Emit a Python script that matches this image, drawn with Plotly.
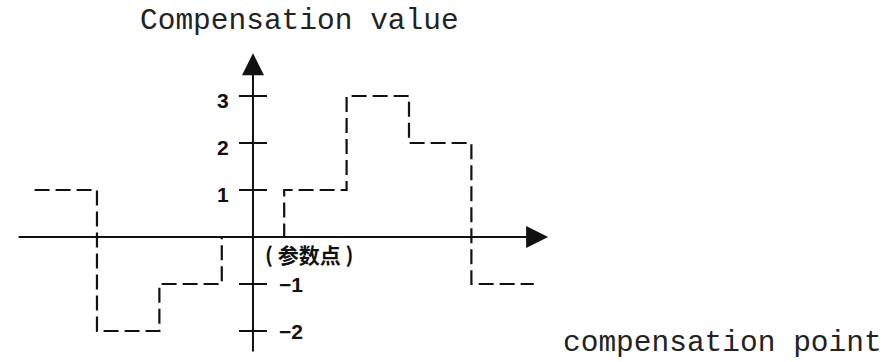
import plotly.graph_objects as go

# compensation point boundaries and the compensation value held on each step
edges = [-3.5, -2.5, -1.5, -0.5, 0.5, 1.5, 2.5, 3.5, 4.5]
values = [1, -2, -1, 0, 1, 3, 2, -1]

tick_values = [3, 2, 1, -1, -2]
tick_labels = ["3", "2", "1", "\u22121", "\u22122"]

x_axis_span = [-3.78, 4.73]
y_axis_span = [-2.47, 3.91]

W, H = 886, 362
x_range = [-4.054, 10.144]
y_range = [-2.66, 5.043]

fig = go.Figure()

# dashed step curve
fig.add_trace(go.Scatter(
    x=edges,
    y=values + [values[-1]],
    mode="lines",
    line=dict(color="#111", width=2.2, dash="15px,6px", shape="hv"),
    hoverinfo="skip",
))

# tick marks crossing the vertical axis
fig.add_trace(go.Scatter(
    x=[0] * len(tick_values),
    y=tick_values,
    mode="markers",
    marker=dict(symbol="line-ew", size=20, line=dict(color="#111", width=2)),
    hoverinfo="skip",
))

annotations = []

# axes drawn as arrows
annotations.append(dict(
    x=x_axis_span[1], y=0, ax=x_axis_span[0], ay=0,
    xref="x", yref="y", axref="x", ayref="y",
    showarrow=True, arrowhead=2, arrowsize=2.2, arrowwidth=2, arrowcolor="#111", text="",
))
annotations.append(dict(
    x=0, y=y_axis_span[1], ax=0, ay=y_axis_span[0],
    xref="x", yref="y", axref="x", ayref="y",
    showarrow=True, arrowhead=2, arrowsize=2.2, arrowwidth=2, arrowcolor="#111", text="",
))

tick_font = dict(family="Liberation Sans, Arial", size=21, color="#111")
for v, lab in zip(tick_values, tick_labels):
    if v > 0:
        annotations.append(dict(x=0, y=v, xref="x", yref="y", text="<b>%s</b>" % lab,
                                showarrow=False, xanchor="right", xshift=-22, yshift=-4,
                                font=tick_font))
    else:
        annotations.append(dict(x=0, y=v, xref="x", yref="y", text="<b>%s</b>" % lab,
                                showarrow=False, xanchor="left", xshift=24, yshift=-1,
                                font=tick_font))

annotations.append(dict(
    x=0.16, y=-0.36, xref="x", yref="y", text="<b>( 参数点 )</b>",
    showarrow=False, xanchor="left", yanchor="middle",
    font=dict(family="Noto Sans CJK SC", size=21, color="#111"),
))

mono = dict(family="Liberation Mono, Courier New, monospace", size=29.5, color="#222")
annotations.append(dict(x=299 / W, y=1 - 21 / H, xref="paper", yref="paper",
                        text="Compensation value", showarrow=False,
                        xanchor="center", yanchor="middle", font=mono))
annotations.append(dict(x=722 / W, y=1 - 343 / H, xref="paper", yref="paper",
                        text="compensation point", showarrow=False,
                        xanchor="center", yanchor="middle", font=mono))

fig.update_layout(
    width=W, height=H,
    margin=dict(l=0, r=0, t=0, b=0),
    paper_bgcolor="white", plot_bgcolor="white",
    showlegend=False,
    xaxis=dict(range=x_range, visible=False, fixedrange=True),
    yaxis=dict(range=y_range, visible=False, fixedrange=True),
    annotations=annotations,
)

# drop the default page margin so the figure sits at the window's corner
fig.write_html("out.html", config={"displayModeBar": False},
               post_script="document.body.style.margin='0';")
